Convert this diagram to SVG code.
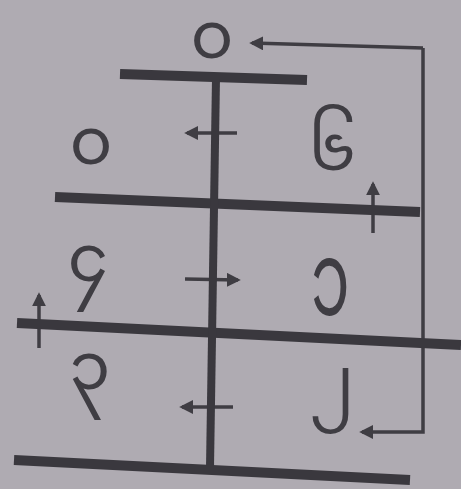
<svg xmlns="http://www.w3.org/2000/svg" width="461" height="489" viewBox="0 0 461 489">
<style>
.bar{stroke:#3a383e;stroke-width:10;stroke-linecap:butt;fill:none}
.ln{stroke:#3f3d43;stroke-width:3.5;fill:none}
.dg{font-family:"Noto Sans Myanmar","Padauk","Myanmar Text","Noto Sans","DejaVu Sans",sans-serif;font-size:66px;fill:#3f3d43;text-anchor:middle}
</style>
<defs>
<marker id="ah" viewBox="0 0 10 10" refX="8" refY="5" markerWidth="4" markerHeight="4" orient="auto" markerUnits="strokeWidth">
<path d="M0,0 L10,5 L0,10 z" fill="#3f3d43"/>
</marker>
</defs>
<rect width="461" height="489" fill="#afabb2"/>
<g id="connectors">
<polyline class="ln" points="423,48 423,432 362,432" marker-end="url(#ah)"/>
<polyline class="ln" points="423,48 252,43" marker-end="url(#ah)"/>
<line class="ln" x1="237" y1="133" x2="187" y2="133" marker-end="url(#ah)"/>
<line class="ln" x1="185" y1="279" x2="238" y2="280" marker-end="url(#ah)"/>
<line class="ln" x1="233" y1="407" x2="182" y2="407" marker-end="url(#ah)"/>
<line class="ln" x1="373" y1="233" x2="373" y2="184" marker-end="url(#ah)"/>
<line class="ln" x1="39" y1="348" x2="39" y2="295" marker-end="url(#ah)"/>
</g>
<g id="frame">
<line class="bar" x1="120" y1="74" x2="307" y2="80"/>
<line class="bar" x1="55" y1="197" x2="420" y2="212"/>
<line class="bar" x1="17" y1="323" x2="461" y2="345"/>
<line class="bar" x1="14" y1="460" x2="410" y2="480"/>
<line class="bar" style="stroke-width:8" x1="216" y1="78" x2="210" y2="467"/>
</g>
<g id="n0top"><text class="dg" x="212" y="58">၀</text></g>
<g id="n0"><text class="dg" x="91" y="164">၀</text></g>
<g id="n6"><text class="dg" x="332" y="170">၆</text></g>
<g id="n4"><text class="dg" x="88" y="281">၄</text></g>
<g id="n1"><text class="dg" transform="translate(330,315) scale(1.05,1.75)" style="font-size:60px" x="0" y="0">၁</text></g>
<g id="n3"><text class="dg" x="90" y="389">၃</text></g>
<g id="n2"><text class="dg" x="332" y="403">၂</text></g>
</svg>
